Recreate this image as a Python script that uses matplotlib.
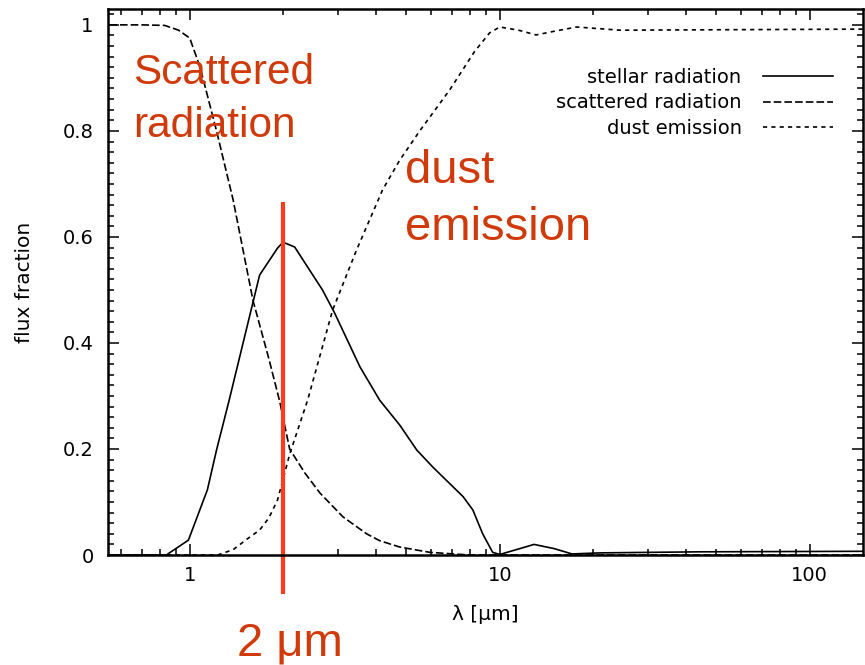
import numpy as np
import matplotlib
matplotlib.use("Agg")
import matplotlib.pyplot as plt
from matplotlib.ticker import FixedLocator, LogLocator, MultipleLocator, NullFormatter

# flux fractions vs wavelength (micron)
lam_scat = [0.55, 0.7, 0.83, 0.92, 1.0, 1.08, 1.22, 1.38, 1.6, 1.8, 1.95, 2.1, 2.35,
            2.63, 3.12, 3.72, 4.1, 4.76, 5.95, 8.0, 150]
scattered = [1.0, 1.0, 0.999, 0.99, 0.975, 0.92, 0.80, 0.67, 0.48, 0.37, 0.29, 0.20, 0.155,
             0.117, 0.072, 0.04, 0.027, 0.015, 0.005, 0.0, 0.0]

lam_star = [0.55, 0.84, 0.99, 1.14, 1.22, 1.34, 1.68, 1.92, 2.0, 2.18, 2.68, 2.93, 3.54,
            4.1, 4.76, 5.4, 6.08, 7.62, 8.19, 8.81, 9.49, 10.0, 11.6, 12.9, 15.0, 17.1,
            21.0, 44, 150]
stellar = [0.0, 0.0, 0.028, 0.123, 0.198, 0.292, 0.528, 0.579, 0.59, 0.581, 0.50, 0.457, 0.355,
           0.292, 0.245, 0.198, 0.166, 0.11, 0.085, 0.04, 0.005, 0.001, 0.012, 0.02, 0.012, 0.002,
           0.004, 0.006, 0.007]

lam_dust = [0.55, 1.23, 1.38, 1.53, 1.68, 1.8, 1.92, 2.1, 2.4, 2.89, 3.45, 4.19, 4.76, 5.52,
            6.89, 8.3, 9.28, 10.0, 11.5, 13.1, 15.0, 17.7, 24.4, 150]
dust = [0.0, 0.0, 0.01, 0.03, 0.047, 0.07, 0.104, 0.19, 0.292, 0.462, 0.575, 0.689, 0.745, 0.80,
        0.877, 0.95, 0.985, 0.996, 0.99, 0.981, 0.988, 0.996, 0.99, 0.992]

yticks = [0, 0.2, 0.4, 0.6, 0.8, 1]
ytick_labels = ["0", "0.2", "0.4", "0.6", "0.8", "1"]
xticks = [1, 10, 100]
xtick_labels = ["1", "10", "100"]

marker_lam = 2.0

plt.rcParams["font.family"] = ["DejaVu Sans"]
plt.rcParams["lines.scale_dashes"] = False

fig = plt.figure(figsize=(8.65, 6.65), dpi=100)
ax = fig.add_axes([0.1252, 0.1654, 0.8725, 0.8211])

ax.plot(lam_star, stellar, color="black", lw=1.2, label="stellar radiation")
ax.plot(lam_scat, scattered, color="black", lw=1.2, dashes=(5.5, 2.2), label="scattered radiation")
ax.plot(lam_dust, dust, color="black", lw=1.2, dashes=(3.0, 3.0), label="dust emission")

ax.set_xscale("log")
ax.set_xlim(0.546, 148.6)
ax.set_ylim(0, 1.03)

ax.xaxis.set_major_locator(FixedLocator(xticks))
ax.set_xticklabels(xtick_labels)
ax.xaxis.set_minor_locator(LogLocator(base=10, subs=np.arange(2, 10)))
ax.xaxis.set_minor_formatter(NullFormatter())
ax.set_yticks(yticks)
ax.set_yticklabels(ytick_labels)
ax.yaxis.set_minor_locator(MultipleLocator(0.02))

ax.tick_params(which="both", direction="in", top=True, right=True, labelsize=14, width=1.1)
ax.tick_params(which="major", length=8)
ax.tick_params(which="minor", length=4.5)
ax.tick_params(axis="y", pad=10.5)
ax.tick_params(axis="x", pad=8)
for sp in ax.spines.values():
    sp.set_linewidth(1.8)

ax.set_xlabel("λ [μm]", fontsize=14.5, labelpad=14)
ax.set_ylabel("flux fraction", fontsize=14.5, labelpad=21)

leg = ax.legend(loc="upper right", bbox_to_anchor=(833 / 865, 1 - 68 / 665),
                bbox_transform=fig.transFigure, frameon=False, markerfirst=False,
                fontsize=14, handlelength=3.6, handletextpad=1.1, labelspacing=0.33,
                borderpad=0, borderaxespad=0)

# 2 micron marker line, running below the axis
ax.plot([marker_lam, marker_lam], [-0.074, 0.666], color="#FF3B1C", lw=3, clip_on=False,
        solid_capstyle="butt")

ann = dict(color="#D03A0A", family="Liberation Sans", ha="left", va="baseline")
fig.text(133 / 865, 1 - 84 / 665, "Scattered", fontsize=30.5, **ann)
fig.text(133 / 865, 1 - 137 / 665, "radiation", fontsize=30.5, **ann)
fig.text(405 / 865, 1 - 183 / 665, "dust", fontsize=34, **ann)
fig.text(405 / 865, 1 - 240 / 665, "emission", fontsize=34, **ann)
fig.text(237 / 865, 1 - 655 / 665, "2 μm", fontsize=34, **ann)

fig.savefig("out.png", dpi=100)
